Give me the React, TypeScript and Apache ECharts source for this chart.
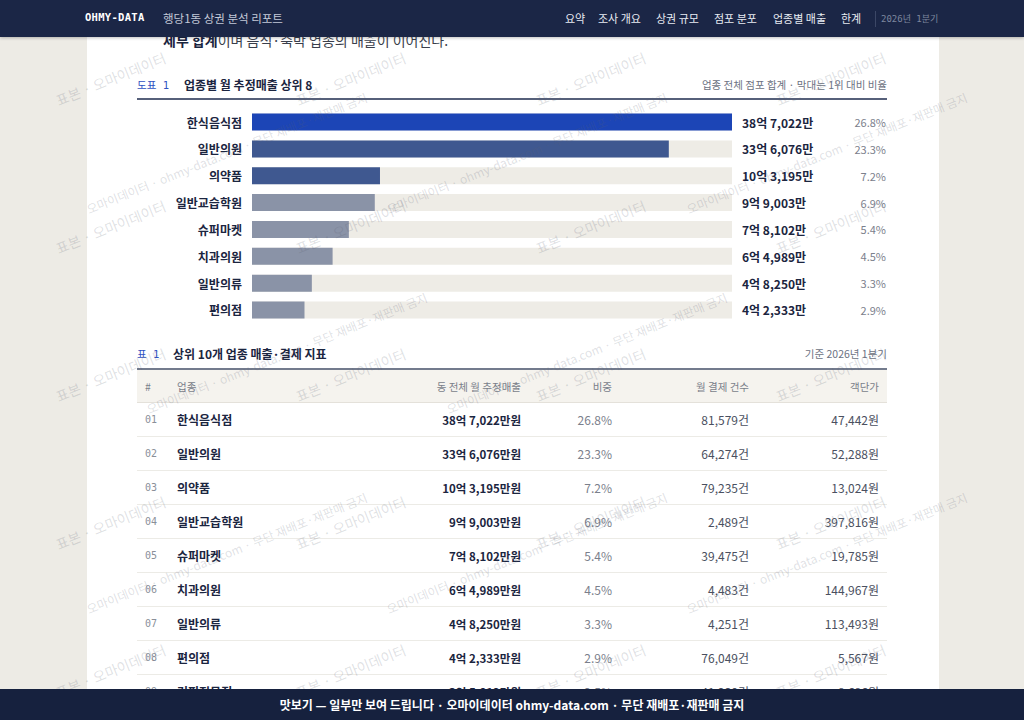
import { useEffect, useRef } from "react";
import * as echarts from "echarts";

const KR = '"Noto Sans CJK KR", "Noto Sans", sans-serif';
const MONO = '"DejaVu Sans Mono", "Liberation Mono", "Noto Sans CJK KR", monospace';

// 도표 1: 업종별 월 추정매출 상위 8 (단위: 만원)
const categories = ["한식음식점", "일반의원", "의약품", "일반교습학원", "슈퍼마켓", "치과의원", "일반의류", "편의점"];
const salesManwon = [387022, 336076, 103195, 99003, 78102, 64989, 48250, 42333];
const sharePct = [26.8, 23.3, 7.2, 6.9, 5.4, 4.5, 3.3, 2.9];

// 표 1: 상위 10개 업종 매출·결제 지표 (9번째 행은 하단 띠에 가려짐)
const tableNames = ["한식음식점", "일반의원", "의약품", "일반교습학원", "슈퍼마켓", "치과의원", "일반의류", "편의점", "커피전문점"];
const tableSales = [387022, 336076, 103195, 99003, 78102, 64989, 48250, 42333, 35812];
const tableShare = [26.8, 23.3, 7.2, 6.9, 5.4, 4.5, 3.3, 2.9, 2.5];
const tableCount = [81579, 64274, 79235, 2489, 39475, 4483, 4251, 76049, 41230];
const tablePrice = [47442, 52288, 13024, 397816, 19785, 144967, 113493, 5567, 8686];

const navItems = ["요약", "조사 개요", "상권 규모", "점포 분포", "업종별 매출", "한계"];
const navLeft = [565, 598, 656, 714, 773, 841];

const num = (v: number) => v.toLocaleString("en-US");
const eokMan = (v: number) => `${Math.floor(v / 10000)}억 ${num(v % 10000)}만`;

function barColor(i: number) {
  if (i === 0) return "#1c45b6";
  if (i < 3) return "#3f5890";
  return "#8a93a7";
}

function SalesChart() {
  const ref = useRef<HTMLDivElement>(null);

  useEffect(() => {
    if (!ref.current) return;
    const chart = echarts.init(ref.current, null, { renderer: "svg" });

    const hidden = { axisLine: { show: false }, axisTick: { show: false }, splitLine: { show: false } };

    chart.setOption({
      animation: false,
      grid: { left: 252, right: 292, top: 4.6, height: 214.8 },
      xAxis: { type: "value", min: 0, max: salesManwon[0], show: false },
      yAxis: [
        {
          type: "category",
          data: categories,
          inverse: true,
          ...hidden,
          axisLabel: { margin: 10, color: "#1b2540", fontSize: 12, fontWeight: "bold", fontFamily: KR },
        },
        {
          type: "category",
          data: categories,
          inverse: true,
          position: "right",
          ...hidden,
          axisLabel: {
            margin: 10,
            formatter: (_v: string, i: number) => `{v|${eokMan(salesManwon[i])}}{p|${sharePct[i].toFixed(1)}%}`,
            rich: {
              v: { width: 100, fontSize: 12, fontWeight: "bold", color: "#1b2540", fontFamily: KR },
              p: { width: 44, align: "right", fontSize: 11, color: "#7b808c", fontFamily: KR },
            },
          },
        },
      ],
      series: [
        {
          type: "bar",
          yAxisIndex: 0,
          barWidth: 17,
          silent: true,
          showBackground: true,
          backgroundStyle: { color: "#eeece6" },
          data: salesManwon.map((v, i) => ({ value: v, itemStyle: { color: barColor(i) } })),
        },
      ],
    });

    return () => chart.dispose();
  }, []);

  return <div ref={ref} style={{ position: "absolute", left: 0, top: 104, width: 1024, height: 224 }} />;
}

function Watermarks() {
  const marks: JSX.Element[] = [];
  const base: React.CSSProperties = {
    position: "absolute",
    whiteSpace: "nowrap",
    transform: "rotate(-22deg)",
    transformOrigin: "left bottom",
    color: "rgba(90, 95, 115, 0.2)",
    fontFamily: KR,
    pointerEvents: "none",
  };
  for (let r = 0; r < 5; r++) {
    for (let c = 0; c < 4; c++) {
      marks.push(
        <span key={`a${r}${c}`} style={{ ...base, left: 60 + c * 240, top: 90 + r * 148, fontSize: 14 }}>
          표본 · 오마이데이터
        </span>
      );
    }
  }
  for (let r = 0; r < 3; r++) {
    for (let c = 0; c < 3; c++) {
      const left = 90 + c * 300 + (r % 2) * 60;
      if (left > 700) continue;
      marks.push(
        <span key={`b${r}${c}`} style={{ ...base, left, top: 200 + r * 200, fontSize: 12 }}>
          오마이데이터 · ohmy-data.com · 무단 재배포·재판매 금지
        </span>
      );
    }
  }
  return <div style={{ position: "absolute", inset: 0, overflow: "hidden", zIndex: 5, pointerEvents: "none" }}>{marks}</div>;
}

const th: React.CSSProperties = { fontWeight: "normal", fontSize: 10.5, color: "#7a7f8a", padding: "0 8px", height: 32 };
const td: React.CSSProperties = { padding: "0 8px", height: 33, borderBottom: "1px solid #ecebe6" };

export default function App() {
  return (
    <div
      style={{
        position: "fixed",
        left: 0,
        top: 0,
        width: 1024,
        height: 720,
        overflow: "hidden",
        background: "#edebe5",
        fontFamily: KR,
      }}
    >
      <div style={{ position: "absolute", left: 87, width: 852, top: 0, bottom: 0, background: "#ffffff" }} />

      <div style={{ position: "absolute", left: 163, top: 30, fontSize: 14, lineHeight: "20px", color: "#3a3f4c" }}>
        <b style={{ color: "#1b2540" }}>세부 합계</b>이며 음식·숙박 업종의 매출이 이어진다.
      </div>

      {/* 도표 1 */}
      <div style={{ position: "absolute", left: 137, top: 76, width: 750, height: 17, display: "flex", alignItems: "center" }}>
        <span style={{ fontFamily: MONO, fontSize: 10.5, color: "#2f52c2", width: 47 }}>도표 1</span>
        <span style={{ fontSize: 12, fontWeight: "bold", color: "#1b2540" }}>업종별 월 추정매출 상위 8</span>
        <span style={{ marginLeft: "auto", fontSize: 10.5, color: "#6c7282" }}>업종 전체 점포 합계 · 막대는 1위 대비 비율</span>
      </div>
      <div style={{ position: "absolute", left: 137, top: 98, width: 750, height: 2, background: "#56607a" }} />
      <SalesChart />

      {/* 표 1 */}
      <div style={{ position: "absolute", left: 137, top: 345, width: 750, height: 17, display: "flex", alignItems: "center" }}>
        <span style={{ fontFamily: MONO, fontSize: 10.5, color: "#2f52c2", width: 36 }}>표 1</span>
        <span style={{ fontSize: 12, fontWeight: "bold", color: "#1b2540" }}>상위 10개 업종 매출·결제 지표</span>
        <span style={{ marginLeft: "auto", fontSize: 10.5, color: "#6c7282" }}>기준 2026년 1분기</span>
      </div>
      <div style={{ position: "absolute", left: 0, top: 0, width: 1024, height: 689, overflow: "hidden" }}>
        <table
          style={{
            position: "absolute",
            left: 137,
            top: 368,
            width: 750,
            tableLayout: "fixed",
            borderCollapse: "collapse",
            borderTop: "2px solid #737b8d",
            fontFamily: KR,
          }}
        >
          <colgroup>
            <col style={{ width: 32 }} />
            <col style={{ width: 200 }} />
            <col style={{ width: 160 }} />
            <col style={{ width: 91 }} />
            <col style={{ width: 137 }} />
            <col style={{ width: 130 }} />
          </colgroup>
          <thead>
            <tr style={{ background: "#f5f3ee", borderBottom: "1px solid #e4e1da" }}>
              <th style={{ ...th, textAlign: "left" }}>#</th>
              <th style={{ ...th, textAlign: "left" }}>업종</th>
              <th style={{ ...th, textAlign: "right" }}>동 전체 월 추정매출</th>
              <th style={{ ...th, textAlign: "right" }}>비중</th>
              <th style={{ ...th, textAlign: "right" }}>월 결제 건수</th>
              <th style={{ ...th, textAlign: "right" }}>객단가</th>
            </tr>
          </thead>
          <tbody>
            {tableNames.map((name, i) => (
              <tr key={name}>
                <td style={{ ...td, fontFamily: MONO, fontSize: 10, color: "#8a8f99" }}>{String(i + 1).padStart(2, "0")}</td>
                <td style={{ ...td, fontSize: 12, fontWeight: "bold", color: "#1b2540" }}>{name}</td>
                <td style={{ ...td, textAlign: "right", fontSize: 11.5, fontWeight: "bold", color: "#1b2540" }}>
                  {eokMan(tableSales[i])}원
                </td>
                <td style={{ ...td, textAlign: "right", fontSize: 12, color: "#7b808c" }}>{tableShare[i].toFixed(1)}%</td>
                <td style={{ ...td, textAlign: "right", fontSize: 12, color: "#4a5060" }}>{num(tableCount[i])}건</td>
                <td style={{ ...td, textAlign: "right", fontSize: 12, color: "#4a5060" }}>{num(tablePrice[i])}원</td>
              </tr>
            ))}
          </tbody>
        </table>
      </div>

      <Watermarks />

      {/* 상단 내비게이션 */}
      <div
        style={{
          position: "absolute",
          left: 0,
          top: 0,
          width: 1024,
          height: 37,
          background: "#1b2646",
          zIndex: 10,
          boxShadow: "0 1px 3px rgba(0,0,0,0.25)",
          overflow: "hidden",
        }}
      >
        <span style={{ position: "absolute", left: 85, top: 11, fontFamily: MONO, fontWeight: "bold", fontSize: 10.5, color: "#ffffff", letterSpacing: 0.3 }}>
          OHMY-DATA
        </span>
        <span style={{ position: "absolute", left: 163, top: 10, fontSize: 11.5, color: "#c3c9d8" }}>행당1동 상권 분석 리포트</span>
        {navItems.map((t, i) => (
          <span key={t} style={{ position: "absolute", left: navLeft[i], top: 10, fontSize: 11, color: "#e8ebf2", whiteSpace: "nowrap" }}>
            {t}
          </span>
        ))}
        <div style={{ position: "absolute", left: 875, top: 11, width: 1, height: 16, background: "#3c4766" }} />
        <span style={{ position: "absolute", left: 881, top: 12, fontFamily: MONO, fontSize: 9, color: "#7d879e", whiteSpace: "nowrap" }}>
          2026년 1분기
        </span>
      </div>

      {/* 하단 띠 */}
      <div
        style={{
          position: "absolute",
          left: 0,
          top: 689,
          width: 1024,
          height: 31,
          background: "#16213e",
          zIndex: 10,
          display: "flex",
          alignItems: "center",
          justifyContent: "center",
          fontSize: 12,
          fontWeight: "bold",
          color: "#ffffff",
        }}
      >
        맛보기 — 일부만 보여 드립니다 · 오마이데이터 ohmy-data.com · 무단 재배포·재판매 금지
      </div>
    </div>
  );
}
